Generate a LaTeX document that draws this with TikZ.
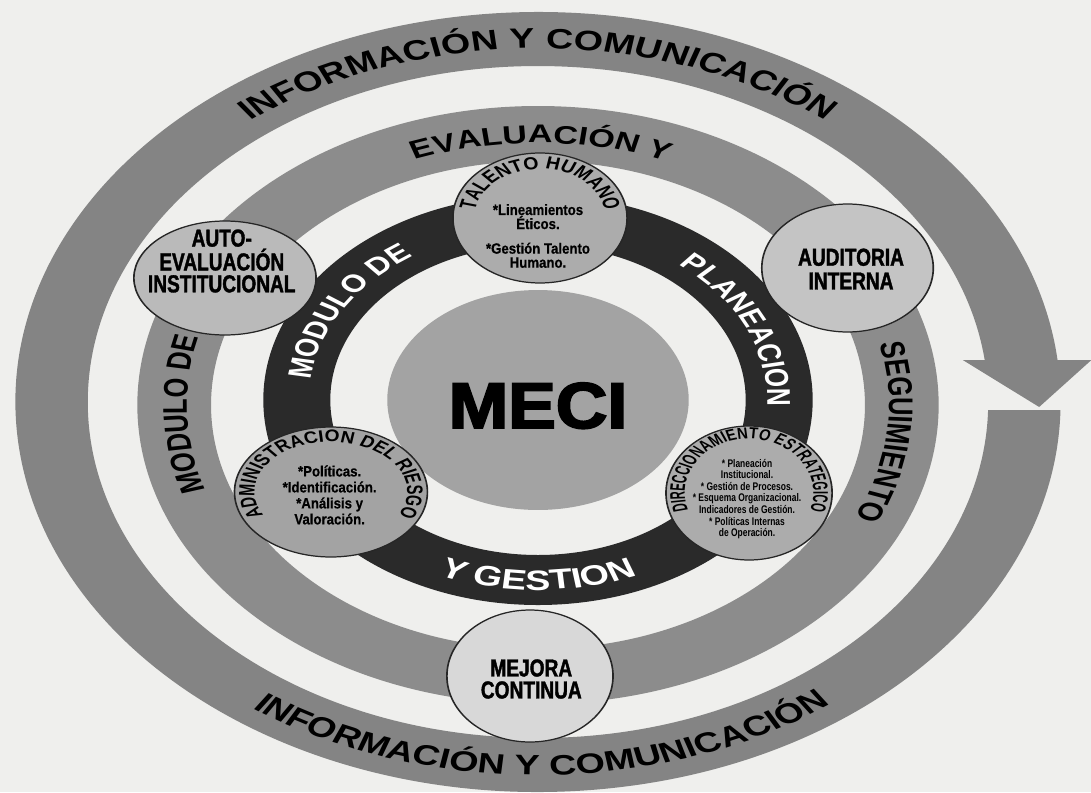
\documentclass[tikz,border=0pt]{standalone}
\usepackage{fontspec}
\setmainfont{Liberation Sans}
\newfontfamily\tagfont[FakeStretch=0.58,FakeBold=1.2]{Liberation Sans}
\newfontfamily\listfont[FakeStretch=0.66,FakeBold=0.4]{Liberation Sans}
\newfontfamily\tinyfont[FakeStretch=0.57]{Liberation Sans}
\newfontfamily\arcfont[FakeStretch=0.83]{Liberation Sans}
\newfontfamily\arcmidfont[FakeStretch=0.86]{Liberation Sans}
\newfontfamily\arcnarrowfont[FakeStretch=0.7]{Liberation Sans}
\newfontfamily\mecifont[FakeStretch=0.82,FakeBold=2.5]{Liberation Sans}
\usetikzlibrary{decorations.text,shapes.geometric}

\definecolor{paper}{RGB}{239,239,237}
\definecolor{ringgray}{RGB}{132,132,132}
\definecolor{midring}{RGB}{140,140,140}
\definecolor{darkring}{RGB}{42,42,42}
\definecolor{coregray}{RGB}{163,163,163}
\definecolor{discA}{RGB}{172,172,172}
\definecolor{discB}{RGB}{186,186,186}
\definecolor{discC}{RGB}{196,196,196}
\definecolor{discD}{RGB}{216,216,216}

\tikzset{
  disc/.style={ellipse, draw=black!85, line width=0.7pt, inner sep=0pt},
  tagtext/.style={font=\tagfont\bfseries\fontsize{14}{12.5}\selectfont, align=center, inner sep=0pt},
  listtext/.style={font=\listfont\bfseries\fontsize{8.5}{8.5}\selectfont, align=center, inner sep=0pt},
  outertext/.style={decorate, decoration={text along path, text align=center,
      text={|\bfseries\fontsize{16}{16}\selectfont|#1}}},
  midtext/.style={decorate, decoration={text along path, text align=center,
      text={|\bfseries\fontsize{14.5}{14.5}\selectfont|#1}}},
  innertext/.style={decorate, decoration={text along path, text align=center, text color=white,
      text={|\bfseries\fontsize{14}{14}\selectfont|#1}}}
}

\begin{document}
\begin{tikzpicture}[x=0.02cm, y=0.02cm]
    \fill[paper] (-538,-390) rectangle (553,402);
    \useasboundingbox (-538,-390) rectangle (553,402);

    \begin{scope}[transform canvas={xscale=1.34}]
        % outer ring with arrow
        \fill[ringgray] (6.2:390) arc[start angle=6.2, end angle=358.8, radius=390]
            -- (358.6:336) arc[start angle=358.6, end angle=7.2, radius=336] -- cycle;
        \fill[ringgray] (317,42) -- (413,42) -- (374,-5) -- cycle;
        % evaluacion ring and planeacion ring
        \fill[midring, even odd rule] (0,-3) circle[radius=299] (0,-3) circle[radius=244];
        \fill[darkring, even odd rule] (0,2) circle[radius=205] (0,2) circle[radius=155];
        \node[ellipse, fill=coregray, inner sep=0pt, minimum width=4.5cm, minimum height=4.4cm,
            text height=32pt, text depth=0pt,
            font=\mecifont\bfseries\fontsize{37}{37}\selectfont] (meci) at (0,2) {MECI};

        % ring texts
        \path[outertext={INFORMACIÓN Y COMUNICACIÓN}] (150:353.5) arc[start angle=150, end angle=30, radius=353.5];
        \path[outertext={INFORMACIÓN Y COMUNICACIÓN}] (210:373) arc[start angle=210, end angle=331, radius=373];
        \path[midtext={MODULO DE}] ([shift={(0,-3)}]215:262) arc[start angle=215, end angle=149, radius=262];
        \path[midtext={EVALUACIÓN Y}] ([shift={(0,-3)}]125:262) arc[start angle=125, end angle=54, radius=262];
        \path[midtext={SEGUIMIENTO}] ([shift={(0,-3)}]30:262) arc[start angle=30, end angle=-42, radius=262];
        \path[innertext={MODULO DE}] ([shift={(0,2)}]190:171) arc[start angle=190, end angle=106, radius=171];
        \path[innertext={PLANEACION}] ([shift={(0,2)}]70:171) arc[start angle=70, end angle=-20, radius=171];
        \path[decorate, decoration={text along path, text align=center, text color=white,
            text={|\bfseries\fontsize{16}{16}\selectfont|Y GESTION}}]
            ([shift={(0,2)}]230:190) arc[start angle=230, end angle=310, radius=190];

        % components
        \node[disc, fill=discA, minimum width=2.6cm, minimum height=2.6cm] (talento) at (1.5,184) {};
        \node[disc, fill=discB, minimum width=2.72cm, minimum height=2.28cm] (autoeval) at (-233.6,124) {};
        \node[disc, fill=discC, minimum width=2.56cm, minimum height=2.56cm] (auditoria) at (231,134) {};
        \node[disc, fill=discA!95!black, minimum width=2.88cm, minimum height=2.6cm] (riesgo) at (-154.5,-90) {};
        \node[disc, fill=discA, minimum width=2.48cm, minimum height=2.68cm] (direccion) at (157.5,-91) {};
        \node[disc, fill=discD, minimum width=2.48cm, minimum height=2.64cm] (mejora) at (-6,-274) {};

        \path[decorate, decoration={text along path, text align=center,
            text={|\arcfont\bfseries\fontsize{10}{10}\selectfont|TALENTO HUMANO}}]
            ([shift={(talento.center)}]178:49) arc[start angle=178, end angle=2, radius=49];
        \path[decorate, decoration={text along path, text align=center,
            text={|\arcmidfont\bfseries\fontsize{9.5}{9.5}\selectfont|ADMINISTRACION DEL RIESGO}}]
            ([shift={(riesgo.center)}]220:57 and 50) arc[start angle=220, end angle=-40, x radius=57, y radius=50];
        \path[decorate, decoration={text along path, text align=center,
            text={|\arcnarrowfont\bfseries\fontsize{9}{9}\selectfont|DIRECCIONAMIENTO ESTRATEGICO}}]
            ([shift={(direccion.center)}]215:48 and 54) arc[start angle=215, end angle=-35, x radius=48, y radius=54];

        \node[tagtext] (autoevaltext) at (-236,141) {AUTO-\\EVALUACIÓN\\INSTITUCIONAL};
        \node[tagtext, font=\tagfont\bfseries\fontsize{14}{13.5}\selectfont] (auditoriatext) at (233.6,133) {AUDITORIA\\INTERNA};
        \node[tagtext] (mejoratext) at (-5,-277) {MEJORA\\CONTINUA};
        \node[listtext, font=\listfont\bfseries\fontsize{8.5}{8}\selectfont] (talentotext) at (0,166)
            {*Lineamientos\\Éticos.\\[6pt]*Gestión Talento\\Humano.};
        \node[listtext, font=\listfont\bfseries\fontsize{8.5}{9.1}\selectfont] (riesgotext) at (-155.5,-93)
            {*Políticas.\\*Identificación.\\*Análisis y\\Valoración.};
        \node[listtext, font=\tinyfont\bfseries\fontsize{6.3}{6.6}\selectfont] (direcciontext) at (156,-97)
            {* Planeación\\Institucional.\\* Gestión de Procesos.\\* Esquema Organizacional.\\Indicadores de Gestión.\\* Políticas Internas\\de Operación.};
    \end{scope}
\end{tikzpicture}
\end{document}
